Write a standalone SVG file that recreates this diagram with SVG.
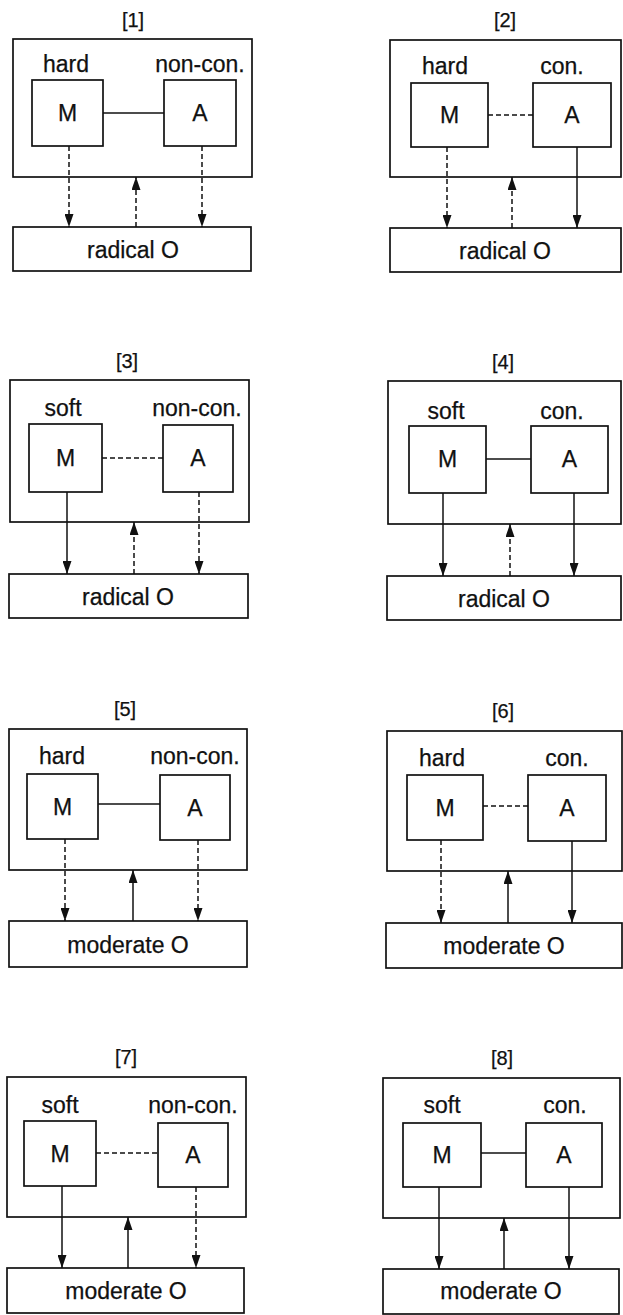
<svg xmlns="http://www.w3.org/2000/svg" width="623" height="1315" viewBox="0 0 623 1315">
<defs>
<style>
.box{fill:none;stroke:#111;stroke-width:1.7}
.t{font-family:"Liberation Sans",Arial,sans-serif;font-size:23px;fill:#111;text-anchor:middle;stroke:#111;stroke-width:0.25}
.ttl{font-family:"Liberation Sans",Arial,sans-serif;font-size:20px;fill:#111;text-anchor:middle;stroke:#111;stroke-width:0.25}
.s{stroke:#111;stroke-width:1.5;fill:none}
.d{stroke:#111;stroke-width:1.5;fill:none;stroke-dasharray:5,3}
.ar{marker-end:url(#ah)}
</style>
<marker id="ah" markerUnits="userSpaceOnUse" markerWidth="13" markerHeight="9" refX="13" refY="4.5" orient="auto">
<path d="M0,0 L13,4.5 L0,9 z" fill="#111"/>
</marker>
</defs>
<rect width="623" height="1315" fill="#fff"/>

<!-- Panel 1 -->
<g id="panel1">
<text class="ttl" x="133" y="27">[1]</text>
<rect id="p1-outer" class="box" x="13" y="39" width="239" height="138"/>
<text class="t" x="66" y="72">hard</text>
<text class="t" x="200" y="72">non-con.</text>
<g id="p1-M"><rect class="box" x="32" y="80" width="71" height="66"/><text class="t" x="67.5" y="121">M</text></g>
<g id="p1-A"><rect class="box" x="164" y="80" width="72" height="66"/><text class="t" x="200" y="121">A</text></g>
<g id="p1-O"><rect class="box" x="13" y="227" width="238" height="44"/><text class="t" x="133" y="258">radical O</text></g>
</g>

<!-- Panel 2 -->
<g id="panel2">
<text class="ttl" x="505" y="27">[2]</text>
<rect id="p2-outer" class="box" x="390" y="40" width="231" height="137"/>
<text class="t" x="445" y="74">hard</text>
<text class="t" x="562" y="74">con.</text>
<g id="p2-M"><rect class="box" x="411" y="83" width="77" height="64"/><text class="t" x="449.5" y="123">M</text></g>
<g id="p2-A"><rect class="box" x="533" y="83" width="78" height="64"/><text class="t" x="572" y="123">A</text></g>
<g id="p2-O"><rect class="box" x="390" y="228" width="231" height="44"/><text class="t" x="505" y="259">radical O</text></g>
</g>

<!-- Panel 3 -->
<g id="panel3">
<text class="ttl" x="127" y="368">[3]</text>
<rect id="p3-outer" class="box" x="10" y="380" width="239" height="142"/>
<text class="t" x="63" y="416">soft</text>
<text class="t" x="197" y="416">non-con.</text>
<g id="p3-M"><rect class="box" x="29" y="424" width="73" height="68"/><text class="t" x="65.5" y="466">M</text></g>
<g id="p3-A"><rect class="box" x="163" y="425" width="70" height="67"/><text class="t" x="198" y="466">A</text></g>
<g id="p3-O"><rect class="box" x="9" y="574" width="239" height="44"/><text class="t" x="128" y="605">radical O</text></g>
</g>

<!-- Panel 4 -->
<g id="panel4">
<text class="ttl" x="503" y="369">[4]</text>
<rect id="p4-outer" class="box" x="388" y="381" width="233" height="143"/>
<text class="t" x="446" y="419">soft</text>
<text class="t" x="562" y="419">con.</text>
<g id="p4-M"><rect class="box" x="409" y="426" width="77" height="67"/><text class="t" x="447.5" y="467">M</text></g>
<g id="p4-A"><rect class="box" x="531" y="426" width="77" height="67"/><text class="t" x="569.5" y="467">A</text></g>
<g id="p4-O"><rect class="box" x="387" y="576" width="234" height="44"/><text class="t" x="504" y="607">radical O</text></g>
</g>

<!-- Panel 5 -->
<g id="panel5">
<text class="ttl" x="125" y="716">[5]</text>
<rect id="p5-outer" class="box" x="9" y="729" width="238" height="141"/>
<text class="t" x="62" y="764">hard</text>
<text class="t" x="195" y="764">non-con.</text>
<g id="p5-M"><rect class="box" x="27" y="774" width="71" height="65"/><text class="t" x="62.5" y="815">M</text></g>
<g id="p5-A"><rect class="box" x="160" y="775" width="70" height="65"/><text class="t" x="195" y="816">A</text></g>
<g id="p5-O"><rect class="box" x="9" y="921" width="238" height="46"/><text class="t" x="128" y="953">moderate O</text></g>
</g>

<!-- Panel 6 -->
<g id="panel6">
<text class="ttl" x="503" y="718">[6]</text>
<rect id="p6-outer" class="box" x="387" y="731" width="235" height="140"/>
<text class="t" x="442" y="766">hard</text>
<text class="t" x="567" y="766">con.</text>
<g id="p6-M"><rect class="box" x="407" y="775" width="76" height="65"/><text class="t" x="445" y="816">M</text></g>
<g id="p6-A"><rect class="box" x="528" y="775" width="78" height="66"/><text class="t" x="567" y="816">A</text></g>
<g id="p6-O"><rect class="box" x="386" y="923" width="236" height="45"/><text class="t" x="504" y="954">moderate O</text></g>
</g>

<!-- Panel 7 -->
<g id="panel7">
<text class="ttl" x="126" y="1064">[7]</text>
<rect id="p7-outer" class="box" x="7" y="1077" width="239" height="140"/>
<text class="t" x="60" y="1113">soft</text>
<text class="t" x="193" y="1113">non-con.</text>
<g id="p7-M"><rect class="box" x="24" y="1121" width="72" height="65"/><text class="t" x="60" y="1162">M</text></g>
<g id="p7-A"><rect class="box" x="158" y="1123" width="70" height="64"/><text class="t" x="193" y="1163">A</text></g>
<g id="p7-O"><rect class="box" x="7" y="1268" width="237" height="45"/><text class="t" x="126" y="1299">moderate O</text></g>
</g>

<!-- Panel 8 -->
<g id="panel8">
<text class="ttl" x="502" y="1065">[8]</text>
<rect id="p8-outer" class="box" x="383" y="1078" width="237" height="140"/>
<text class="t" x="442" y="1113">soft</text>
<text class="t" x="565" y="1113">con.</text>
<g id="p8-M"><rect class="box" x="403" y="1123" width="78" height="64"/><text class="t" x="442" y="1163">M</text></g>
<g id="p8-A"><rect class="box" x="526" y="1123" width="76" height="64"/><text class="t" x="564" y="1163">A</text></g>
<g id="p8-O"><rect class="box" x="383" y="1269" width="236" height="45"/><text class="t" x="501" y="1299">moderate O</text></g>
</g>

<!-- Connectors -->
<g id="connectors">
<!-- P1 -->
<line class="s" x1="103" y1="113" x2="164" y2="113"/>
<line class="d ar" x1="69" y1="146" x2="69" y2="227"/>
<line class="d ar" x1="136" y1="227" x2="136" y2="177"/>
<line class="d ar" x1="202" y1="146" x2="202" y2="227"/>
<!-- P2 -->
<line class="d" x1="488" y1="115" x2="533" y2="115"/>
<line class="d ar" x1="447" y1="147" x2="447" y2="228"/>
<line class="d ar" x1="512" y1="228" x2="512" y2="177"/>
<line class="s ar" x1="577" y1="147" x2="577" y2="228"/>
<!-- P3 -->
<line class="d" x1="102" y1="458" x2="163" y2="458"/>
<line class="s ar" x1="67" y1="492" x2="67" y2="574"/>
<line class="d ar" x1="134" y1="574" x2="134" y2="522"/>
<line class="d ar" x1="199" y1="492" x2="199" y2="574"/>
<!-- P4 -->
<line class="s" x1="486" y1="459" x2="531" y2="459"/>
<line class="s ar" x1="443" y1="493" x2="443" y2="576"/>
<line class="d ar" x1="510" y1="576" x2="510" y2="524"/>
<line class="s ar" x1="574" y1="493" x2="574" y2="576"/>
<!-- P5 -->
<line class="s" x1="98" y1="804" x2="160" y2="804"/>
<line class="d ar" x1="65" y1="839" x2="65" y2="921"/>
<line class="s ar" x1="133" y1="921" x2="133" y2="870"/>
<line class="d ar" x1="198" y1="840" x2="198" y2="921"/>
<!-- P6 -->
<line class="d" x1="483" y1="806" x2="528" y2="806"/>
<line class="d ar" x1="441" y1="840" x2="441" y2="923"/>
<line class="s ar" x1="508" y1="923" x2="508" y2="871"/>
<line class="s ar" x1="572" y1="841" x2="572" y2="923"/>
<!-- P7 -->
<line class="d" x1="96" y1="1153" x2="158" y2="1153"/>
<line class="s ar" x1="62" y1="1186" x2="62" y2="1268"/>
<line class="s ar" x1="128" y1="1268" x2="128" y2="1217"/>
<line class="d ar" x1="196" y1="1187" x2="196" y2="1268"/>
<!-- P8 -->
<line class="s" x1="481" y1="1153" x2="526" y2="1153"/>
<line class="s ar" x1="439" y1="1187" x2="439" y2="1269"/>
<line class="s ar" x1="504" y1="1269" x2="504" y2="1218"/>
<line class="s ar" x1="569" y1="1187" x2="569" y2="1269"/>
</g>
</svg>
